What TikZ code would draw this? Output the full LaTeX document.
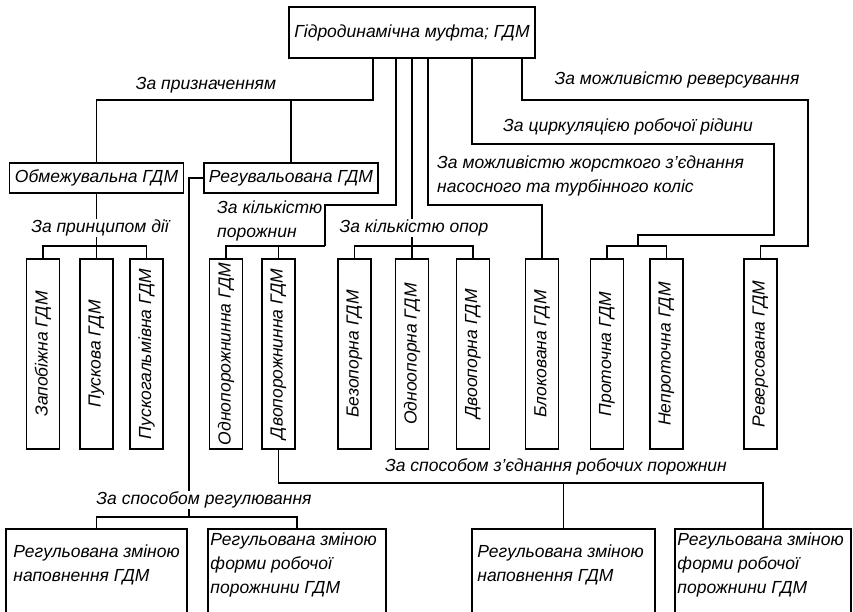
\documentclass[tikz,border=0pt]{standalone}
\usepackage{fontspec}
\setmainfont{Liberation Sans}
\newcommand\gfont{\fontsize{17.5}{24}\selectfont\itshape}
\begin{document}
\begin{tikzpicture}[x=1pt,y=-1pt,
  ln/.style={line width=1.6pt},
  box/.style={draw, line width=1.5pt, inner sep=0pt, font=\gfont},
  hbox/.style={box, minimum width=174pt, minimum height=30pt},
  vbox/.style={box, rotate=90, minimum width=190pt, minimum height=33pt},
  bbox/.style={box, anchor=north, minimum height=110pt},
  btext/.style={font=\gfont, anchor=north west, align=left, inner sep=0pt},
  lab/.style={font=\gfont, inner sep=1pt, fill=white}]
\useasboundingbox (0,0) rectangle (853,612);
\clip (0,0) rectangle (853,612);
\fill[white] (0,0) rectangle (853,612);

% top
\node[box, minimum width=246pt, minimum height=51pt] (top) at (412,32.5) {Гідродинамічна муфта; ГДМ};

% second level
\node[hbox] (obm) at (96.5,178) {Обмежувальна ГДМ};
\node[hbox] (reg) at (291,178) {Регувальована ГДМ};

% vertical boxes
\node[vbox] (zap) at (43,354) {Запобіжна ГДМ};
\node[vbox] (pusk) at (96.5,354) {Пускова ГДМ};
\node[vbox] (puskg) at (146.5,354) {Пускогальмівна ГДМ};
\node[vbox] (odnopor) at (226,354) {Однопорожнинна ГДМ};
\node[vbox] (dvopor) at (278.5,354) {Двопорожнинна ГДМ};
\node[vbox] (bezop) at (354.5,354) {Безопорна ГДМ};
\node[vbox] (odnoop) at (412,354) {Одноопорна ГДМ};
\node[vbox] (dvoop) at (473,354) {Двоопорна ГДМ};
\node[vbox] (blok) at (542,354) {Блокована ГДМ};
\node[vbox] (protoch) at (607,354) {Проточна ГДМ};
\node[vbox] (neprot) at (666.5,354) {Непроточна ГДМ};
\node[vbox] (revers) at (760.5,354) {Реверсована ГДМ};

% bottom boxes
\node[bbox, minimum width=181pt] (b1) at (96.5,528) {};
\node[bbox, minimum width=178pt] (b2) at (297,528) {};
\node[bbox, minimum width=183pt] (b3) at (563.5,528) {};
\node[bbox, minimum width=176pt] (b4) at (763,528) {};
\node[btext] (t1) at ([xshift=8pt,yshift=-17pt]b1.north west) {Регульована зміною\\наповнення ГДМ};
\node[btext] (t2) at ([xshift=3pt,yshift=-5pt]b2.north west) {Регульована зміною\\форми робочої\\порожнини ГДМ};
\node[btext] (t3) at ([xshift=6pt,yshift=-17pt]b3.north west) {Регульована зміною\\наповнення ГДМ};
\node[btext] (t4) at ([xshift=3pt,yshift=-5pt]b4.north west) {Регульована зміною\\форми робочої\\порожнини ГДМ};

% coordinates
\coordinate (c1) at (373,100);
\coordinate (c2) at (396,205);
\coordinate (c2b) at (325,205);
\coordinate (hp) at (325,246);
\coordinate (ho) at (412,246);
\coordinate (c4) at (428,205);
\coordinate (c5a) at (472,144);
\coordinate (c5b) at (774,235);
\coordinate (hc) at (638,246);
\coordinate (c6a) at (522,100);
\coordinate (c6b) at (808,246);
\coordinate (hz) at (96.5,246);
\coordinate (rg) at (189,517);
\coordinate (sp) at (763,483);

% connectors
\draw[ln] (top.south -| c1) -- (c1) -| (obm.north);
\draw[ln] (reg.north) |- (c1);
\draw[ln] (top.south -| c2) -- (c2) -- (c2b) -- (hp);
\draw[ln] (odnopor.east) |- (hp);
\draw[ln] (dvopor.east) |- (hp);
\draw[ln] (top.south -| odnoop.east) -- (odnoop.east);
\draw[ln] (bezop.east) |- (ho) -| (dvoop.east);
\draw[ln] (top.south -| c4) -- (c4) -| (blok.east);
\draw[ln] (top.south -| c5a) -- (c5a) -| (c5b) -- (c5b -| hc) -- (hc);
\draw[ln] (protoch.east) |- (hc) -| (neprot.east);
\draw[ln] (top.south -| c6a) -- (c6a) -| (c6b) -| (revers.east);
\draw[ln] (obm.south) -- (pusk.east);
\draw[ln] (zap.east) |- (hz) -| (puskg.east);
\draw[ln] (reg.west) -| (rg);
\draw[ln] (b1.north) |- (rg) -| (b2.north);
\draw[ln] (dvopor.west) |- (sp) -- (b4.north);
\draw[ln] (b3.north) -- (b3.north |- sp);

% labels
\node[lab] (lp) at (206,85) {За призначенням};
\node[lab] (lpd) at (100,228) {За принципом дії};
\node[lab, anchor=west, align=left] (lkp) at (216,221) {За кількістю\\порожнин};
\node[lab] (lko) at (414,228) {За кількістю опор};
\node[lab] (lrev) at (677,80) {За можливістю реверсування};
\node[lab] (lcirc) at (628,127) {За циркуляцією робочої рідини};
\node[lab, anchor=west, align=left] (lzh) at (436,175.5) {За можливістю жорсткого з’єднання\\насосного та турбінного коліс};
\node[lab] (lsz) at (556,467) {За способом з’єднання робочих порожнин};
\node[lab] (lsr) at (204,500) {За способом регулювання};
\end{tikzpicture}
\end{document}
